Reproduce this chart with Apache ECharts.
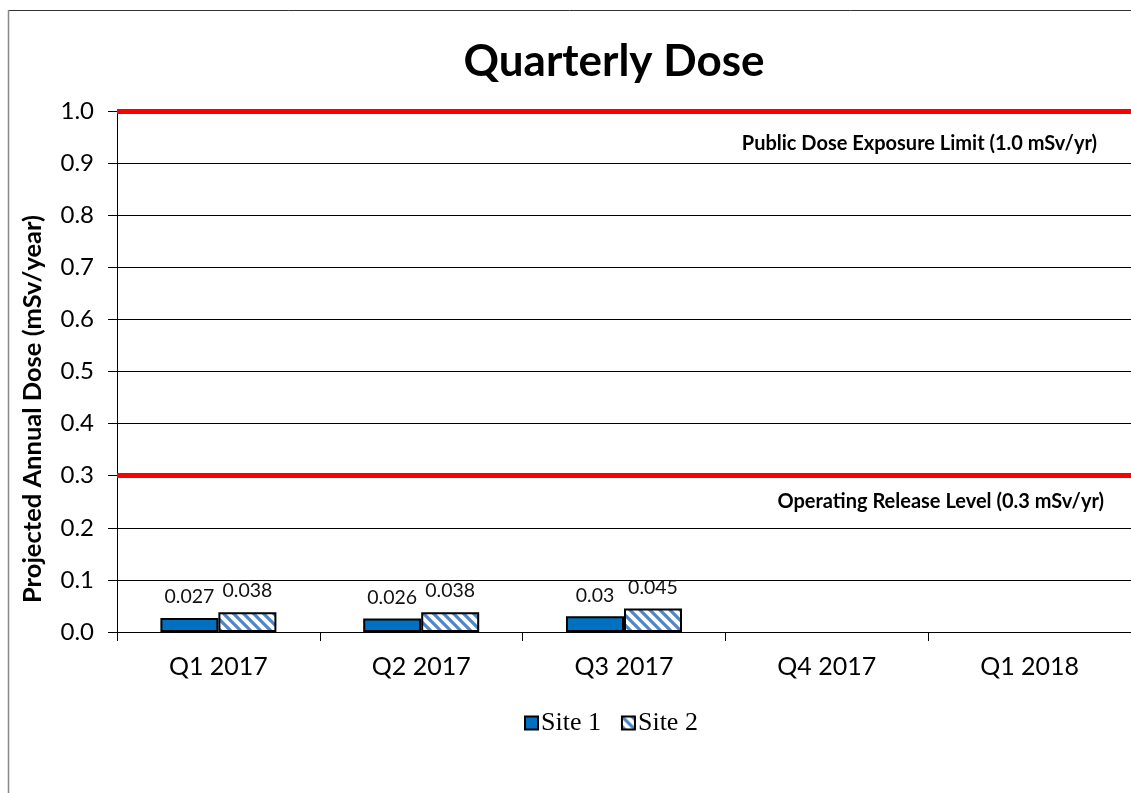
<!DOCTYPE html>
<html>
<head>
<meta charset="utf-8">
<script src="https://cdn.jsdelivr.net/npm/echarts@6/dist/echarts.min.js"></script>
<style>
  html, body { margin: 0; padding: 0; background: #fff; }
  #chart { width: 1131px; height: 793px; }
</style>
</head>
<body>
<div id="chart"></div>
<script>
// data
const categories = ['Q1 2017', 'Q2 2017', 'Q3 2017', 'Q4 2017', 'Q1 2018'];
const site1 = [0.027, 0.026, 0.03, null, null];
const site2 = [0.038, 0.038, 0.045, null, null];
const limitLines = [
  { value: 1.0, text: 'Public Dose Exposure Limit (1.0 mSv/yr)' },
  { value: 0.3, text: 'Operating Release Level (0.3 mSv/yr)' }
];

// hatch pattern for site 2 (diagonal stripes)
const makeHatch = () => {
  const s = 10;
  const c = document.createElement('canvas');
  c.width = s;
  c.height = s;
  const ctx = c.getContext('2d');
  ctx.fillStyle = '#ffffff';
  ctx.fillRect(0, 0, s, s);
  ctx.strokeStyle = '#4f86c6';
  ctx.lineWidth = 3.2;
  ctx.beginPath();
  for (let k = -1; k <= 1; k++) {
    ctx.moveTo(k * s - 2, -2);
    ctx.lineTo(k * s + s + 2, s + 2);
  }
  ctx.stroke();
  return c;
};

const chart = echarts.init(document.getElementById('chart'));

const labelStyle = {
  show: true,
  position: 'top',
  distance: 11,
  fontFamily: 'Lato',
  fontSize: 19.5,
  color: '#111'
};

chart.setOption({
  animation: false,
  title: {
    text: 'Quarterly Dose',
    left: 609,
    top: 35,
    textAlign: 'center',
    textStyle: { fontFamily: 'Lato', fontWeight: 'bold', fontSize: 44, color: '#000' }
  },
  graphic: [
    { type: 'line', shape: { x1: 8, y1: 10.5, x2: 1131, y2: 10.5 }, style: { stroke: '#333', lineWidth: 1 } },
    { type: 'line', shape: { x1: 8.5, y1: 10, x2: 8.5, y2: 793 }, style: { stroke: '#888', lineWidth: 1.5 } },
    {
      type: 'text',
      x: 33,
      y: 409,
      rotation: Math.PI / 2,
      style: {
        text: 'Projected Annual Dose (mSv/year)',
        fontFamily: 'Lato',
        fontWeight: 'bold',
        fontSize: 25.5,
        fill: '#000',
        align: 'center',
        verticalAlign: 'middle'
      }
    }
  ],
  legend: {
    data: ['Site 1', 'Site 2'],
    left: 519,
    top: 705,
    icon: 'rect',
    itemWidth: 13,
    itemHeight: 13,
    itemGap: 20,
    textStyle: { fontFamily: 'Liberation Serif', fontSize: 26, color: '#000', padding: [0, 0, 0, -2] }
  },
  grid: { left: 117, right: 0, top: 111, bottom: 161 },
  xAxis: {
    type: 'category',
    data: categories,
    axisLine: { lineStyle: { color: '#000', width: 1 } },
    axisTick: { show: true, length: 9, lineStyle: { color: '#000' } },
    axisLabel: { fontFamily: 'Lato', fontSize: 25, color: '#000', margin: 22 }
  },
  yAxis: {
    type: 'value',
    min: 0,
    max: 1,
    interval: 0.1,
    axisLine: { show: true, lineStyle: { color: '#000', width: 1 } },
    axisTick: { show: true, length: 9, lineStyle: { color: '#000' } },
    axisLabel: { fontFamily: 'Lato', fontSize: 24, color: '#000', margin: 23, formatter: (v) => v.toFixed(1) },
    splitLine: { lineStyle: { color: '#000', width: 1 } }
  },
  series: [
    {
      name: 'Site 1',
      type: 'bar',
      data: site1,
      barWidth: '28.6%',
      barGap: '0%',
      itemStyle: { color: '#0070c0', borderColor: '#000', borderWidth: 2 },
      label: labelStyle,
      markLine: {
        silent: true,
        symbol: 'none',
        lineStyle: { color: '#ff0000', width: 5, type: 'solid' },
        label: {
          position: 'insideEndBottom',
          fontFamily: 'Lato',
          fontWeight: 'bold',
          fontSize: 20,
          color: '#000'
        },
        data: limitLines.map((d, i) => ({
          yAxis: d.value,
          label: {
            formatter: d.text,
            distance: i === 0 ? [34, 23] : [27, 16]
          }
        }))
      }
    },
    {
      name: 'Site 2',
      type: 'bar',
      data: site2,
      barWidth: '28.6%',
      barGap: '0%',
      itemStyle: { color: { image: makeHatch(), repeat: 'repeat' }, borderColor: '#000', borderWidth: 2 },
      label: labelStyle
    }
  ]
});
</script>
</body>
</html>
